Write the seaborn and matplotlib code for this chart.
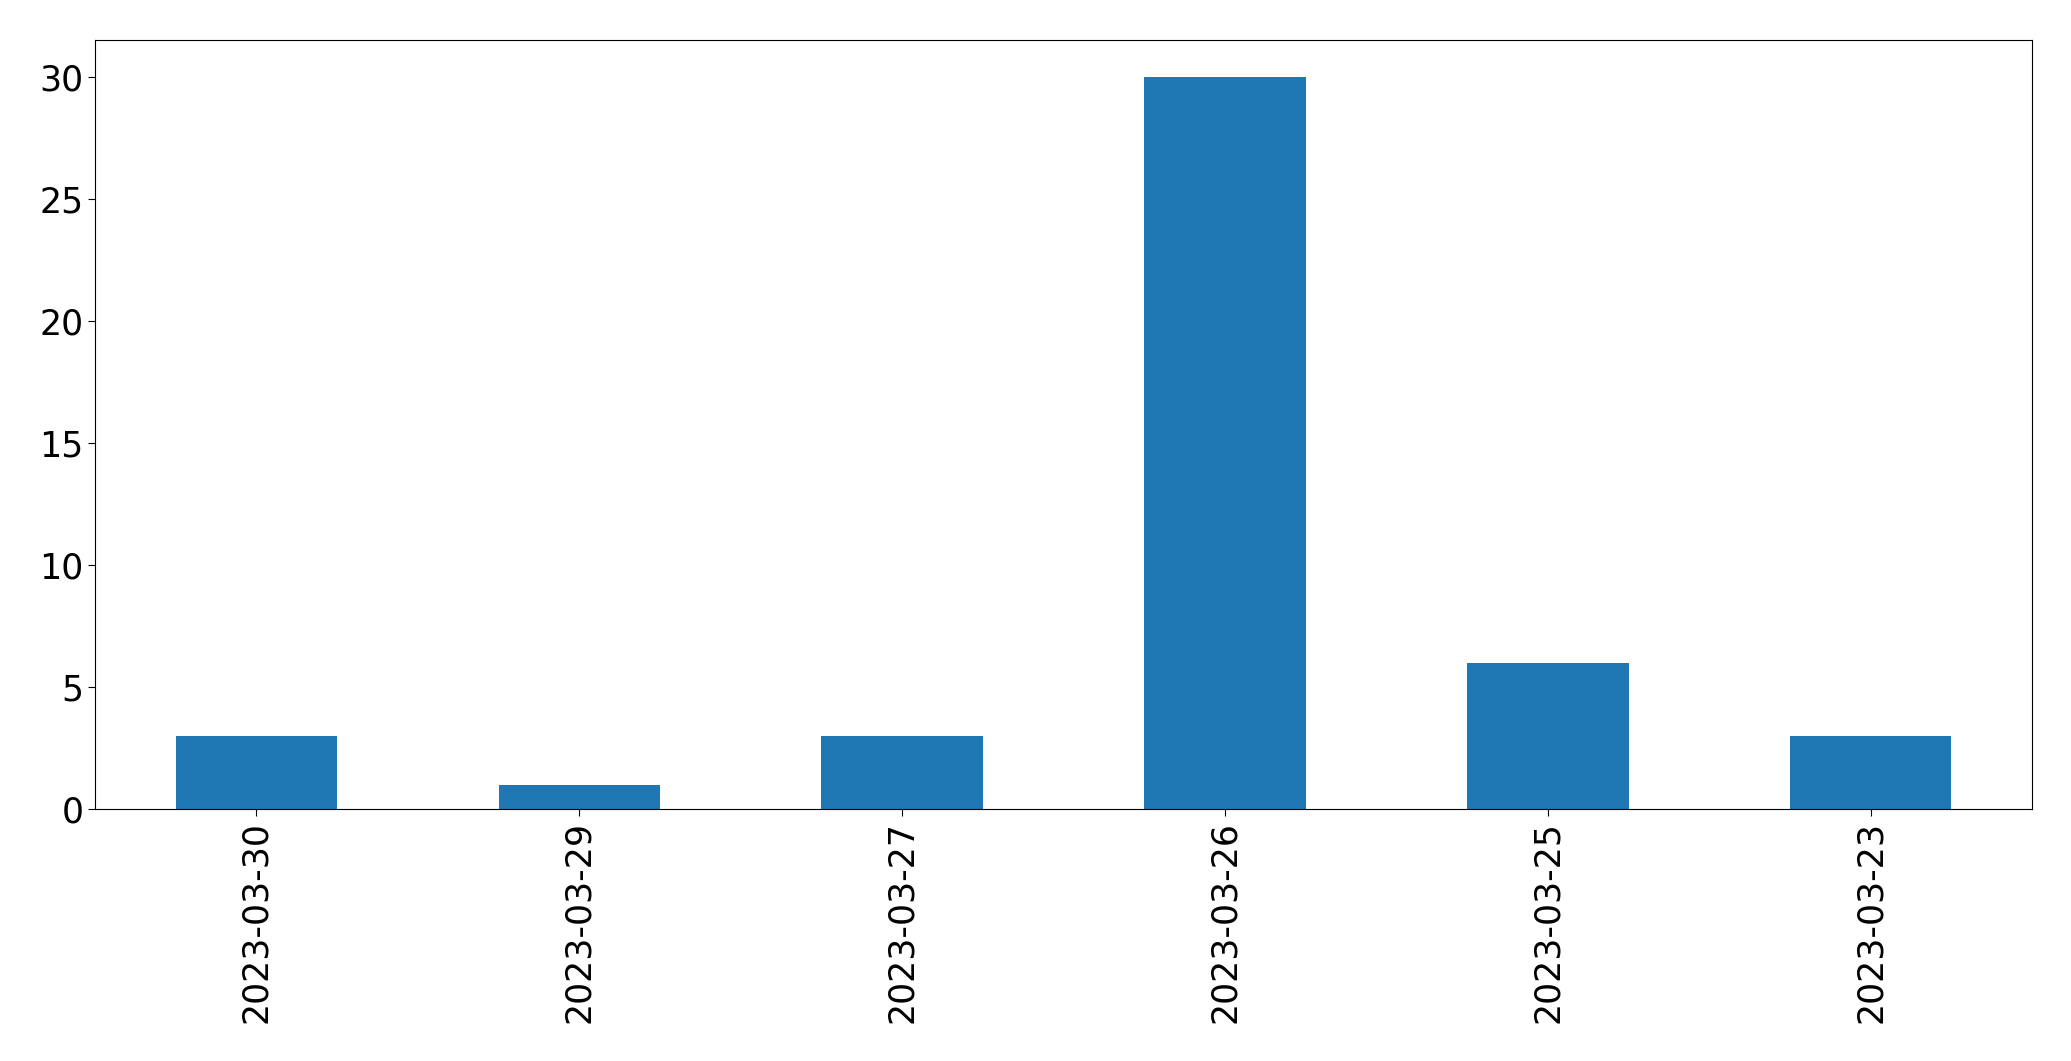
import matplotlib
matplotlib.use("Agg")
import matplotlib.pyplot as plt
import seaborn as sns
import pandas as pd

dates = ["2023-03-30", "2023-03-29", "2023-03-27", "2023-03-26", "2023-03-25", "2023-03-23"]
counts = [3, 1, 3, 30, 6, 3]

df = pd.DataFrame({"date": dates, "count": counts})

plt.rcParams["font.family"] = ["DejaVu Sans"]
fig, ax = plt.subplots(figsize=(20.71, 10.61), dpi=100)
sns.barplot(data=df, x="date", y="count", order=dates, color="#1f77b4",
            saturation=1, width=0.5, ax=ax)
ax.set_xlim(-0.5, len(dates) - 0.5)
ax.set_ylim(0, 31.5)
ax.set_xlabel("")
ax.set_ylabel("")
ax.tick_params(axis="both", labelsize=25, length=5)
for s in ax.spines.values():
    s.set_color("black")
plt.setp(ax.get_xticklabels(), rotation=90)
fig.subplots_adjust(left=0.0459, right=0.9812, top=0.9623, bottom=0.2375)
fig.savefig("out.png", dpi=100)
